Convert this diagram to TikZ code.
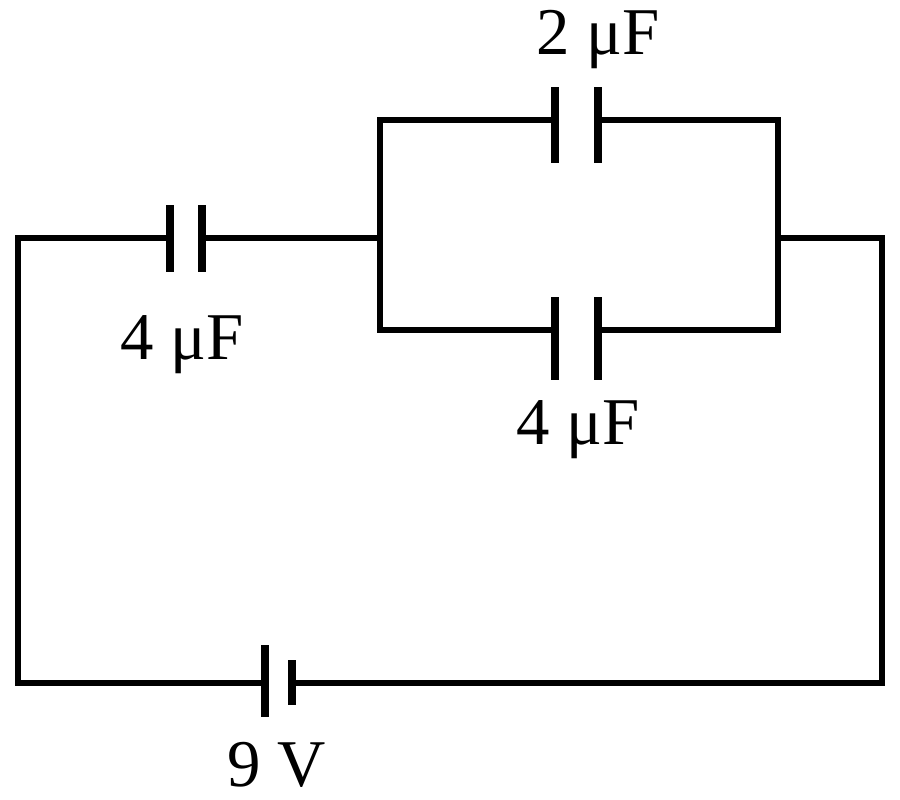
\documentclass[tikz,border=0pt]{standalone}
\usepackage{fontspec}
\setmainfont{Liberation Serif}
\newcommand\capfont{\fontsize{19}{22}\selectfont}

\begin{document}
\begin{tikzpicture}[
    x=0.01cm, y=-0.01cm,
    wire/.style={line width=1.5pt, line join=miter},
    plate/.style={line width=2pt},
    lbl/.style={font=\capfont, inner sep=0pt}
  ]
    \useasboundingbox (0,0) rectangle (900,800);

    % corners of the circuit
    \coordinate (TL) at (18,238);
    \coordinate (BL) at (18,683);
    \coordinate (BR) at (882,683);
    \coordinate (TR) at (882,238);
    \coordinate (PL) at (380,238);
    \coordinate (PR) at (778,238);

    % series capacitor
    \coordinate (C1a) at (170,238);
    \coordinate (C1b) at (202,238);
    % parallel capacitors
    \coordinate (C2a) at (555,120);
    \coordinate (C2b) at (598,120);
    \coordinate (C3a) at (555,330);
    \coordinate (C3b) at (598,330);
    % battery
    \coordinate (Ba) at (265,683);
    \coordinate (Bb) at (292,683);

    \draw[wire] (C1a) -- (TL) -- (BL) -- (Ba);
    \draw[wire] (Bb) -- (BR) -- (TR) -- (PR);
    \draw[wire] (C1b) -- (PL);
    \draw[wire] (C2a) -- (380,120) -- (380,330) -- (C3a);
    \draw[wire] (C2b) -- (778,120) -- (778,330) -- (C3b);

    \draw[plate] ([shift={(0,-33)}]C1a) -- ([shift={(0,34)}]C1a);
    \draw[plate] ([shift={(0,-33)}]C1b) -- ([shift={(0,34)}]C1b);
    \draw[plate] ([shift={(0,-33)}]C2a) -- ([shift={(0,43)}]C2a);
    \draw[plate] ([shift={(0,-33)}]C2b) -- ([shift={(0,43)}]C2b);
    \draw[plate] ([shift={(0,-33)}]C3a) -- ([shift={(0,50)}]C3a);
    \draw[plate] ([shift={(0,-33)}]C3b) -- ([shift={(0,50)}]C3b);
    \draw[plate] ([shift={(0,-38)}]Ba) -- ([shift={(0,34)}]Ba);
    \draw[plate] ([shift={(0,-23)}]Bb) -- ([shift={(0,22)}]Bb);

    \node[lbl] (L1) at (182,345) {4 μF};
    \node[lbl] (L2) at (598,40) {2 μF};
    \node[lbl] (L3) at (578,430) {4 μF};
    \node[lbl] (L4) at (277,765) {9 V};
  \end{tikzpicture}
\end{document}
